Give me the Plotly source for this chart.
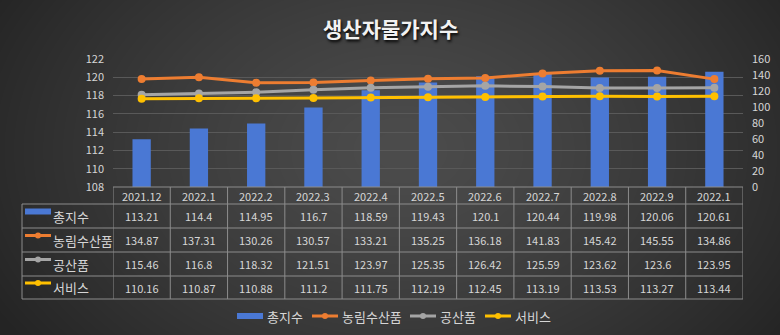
import base64
import struct
import zlib

import numpy as np
import plotly.graph_objects as go

# ---- data -------------------------------------------------------------
periods = ["2021.12", "2022.1", "2022.2", "2022.3", "2022.4", "2022.5",
           "2022.6", "2022.7", "2022.8", "2022.9", "2022.10"]
period_labels = ["2021.12", "2022.1", "2022.2", "2022.3", "2022.4", "2022.5",
                 "2022.6", "2022.7", "2022.8", "2022.9", "2022.1"]

total_index = [113.21, 114.4, 114.95, 116.7, 118.59, 119.43,
               120.1, 120.44, 119.98, 120.06, 120.61]
agri_fishery = [134.87, 137.31, 130.26, 130.57, 133.21, 135.25,
                136.18, 141.83, 145.42, 145.55, 134.86]
industrial = [115.46, 116.8, 118.32, 121.51, 123.97, 125.35,
              126.42, 125.59, 123.62, 123.6, 123.95]
services = [110.16, 110.87, 110.88, 111.2, 111.75, 112.19,
            112.45, 113.19, 113.53, 113.27, 113.44]

series_names = ["총지수", "농림수산품", "공산품", "서비스"]
series_values = [total_index, agri_fishery, industrial, services]
series_colors = ["#4a78d4", "#ed7d31", "#a5a5a5", "#ffc000"]

FONT = "Noto Sans CJK KR"
TEXT = "#d6d6d6"
GRID = "#595959"
RULE = "#8c8c8c"

W, H = 780, 335
L, R, T, B = 113, 37, 59, 148
PW, PH = W - L - R, H - T - B


def px_x(px):
    return (px - L) / PW


def px_y(py):
    return (H - B - py) / PH


# ---- dark radial background as an inline PNG ---------------------------
yy, xx = np.mgrid[0:H, 0:W].astype(float)
d = np.sqrt(((xx - 400) / 470) ** 2 + ((yy - 150) / 330) ** 2)
d = np.clip(d, 0, 1)
lum = 76 - (76 - 36) * d ** 1.3
img = np.repeat(lum[:, :, None], 3, axis=2).astype(np.uint8)
raw = b"".join(b"\x00" + row.tobytes() for row in img)


def chunk(tag, data):
    return (struct.pack(">I", len(data)) + tag + data
            + struct.pack(">I", zlib.crc32(tag + data) & 0xFFFFFFFF))


png = (b"\x89PNG\r\n\x1a\n"
       + chunk(b"IHDR", struct.pack(">IIBBBBB", W, H, 8, 2, 0, 0, 0))
       + chunk(b"IDAT", zlib.compress(raw, 9))
       + chunk(b"IEND", b""))
bg_uri = "data:image/png;base64," + base64.b64encode(png).decode()

# ---- traces -------------------------------------------------------------
fig = go.Figure()
fig.add_trace(go.Bar(
    x=periods, y=total_index, name=series_names[0],
    marker=dict(color=series_colors[0], line=dict(width=0)),
    width=0.32,
))
for name, vals, col in zip(series_names[1:], series_values[1:], series_colors[1:]):
    fig.add_trace(go.Scatter(
        x=periods, y=vals, name=name, yaxis="y2", mode="lines+markers",
        line=dict(color=col, width=3),
        marker=dict(color=col, size=8),
    ))

shapes = []
annotations = []


def add_key(i, x0, yc):
    """Legend key for series i: bar swatch or line-with-dot, 26px wide."""
    col = series_colors[i]
    if i == 0:
        shapes.append(dict(type="rect", xref="paper", yref="paper",
                           x0=px_x(x0), x1=px_x(x0 + 26),
                           y0=px_y(yc + 3), y1=px_y(yc - 3),
                           fillcolor=col, line=dict(width=0)))
    else:
        shapes.append(dict(type="line", xref="paper", yref="paper",
                           x0=px_x(x0), x1=px_x(x0 + 26), y0=px_y(yc), y1=px_y(yc),
                           line=dict(color=col, width=3)))
        shapes.append(dict(type="circle", xref="paper", yref="paper",
                           x0=px_x(x0 + 10), x1=px_x(x0 + 16),
                           y0=px_y(yc + 3), y1=px_y(yc - 3),
                           fillcolor=col, line=dict(width=0)))


# ---- data table under the plot -----------------------------------------
row_tops = [187, 204, 228, 252, 276, 299]
line_style = dict(color=RULE, width=1)

shapes.append(dict(type="line", xref="x", yref="paper", x0=-0.5, x1=len(periods) - 0.5,
                   y0=px_y(row_tops[0]), y1=px_y(row_tops[0]), line=line_style))
for py in row_tops[1:]:
    shapes.append(dict(type="line", xref="paper", yref="paper", x0=px_x(22), x1=1,
                       y0=px_y(py), y1=px_y(py), line=line_style))
for k in range(len(periods) + 1):
    shapes.append(dict(type="line", xref="x", yref="paper", x0=k - 0.5, x1=k - 0.5,
                       y0=px_y(row_tops[0]), y1=px_y(row_tops[-1]), line=line_style))
shapes.append(dict(type="line", xref="paper", yref="paper", x0=px_x(22), x1=px_x(22),
                   y0=px_y(row_tops[1]), y1=px_y(row_tops[-1]), line=line_style))

cell_font = dict(family=FONT, size=11, color=TEXT)

hy = px_y((row_tops[0] + row_tops[1]) / 2)
for k, lab in enumerate(period_labels):
    annotations.append(dict(x=k, xref="x", y=hy, yref="paper", text=lab,
                            xanchor="center", yanchor="middle",
                            showarrow=False, font=cell_font))

for i, (name, vals) in enumerate(zip(series_names, series_values)):
    mid = (row_tops[i + 1] + row_tops[i + 2]) / 2
    add_key(i, 25, mid - 4.5)
    annotations.append(dict(x=px_x(51), xref="paper", y=px_y(mid), yref="paper",
                            text=name, xanchor="left", yanchor="middle", showarrow=False,
                            font=dict(family=FONT, size=13, color=TEXT)))
    for k, v in enumerate(vals):
        annotations.append(dict(x=k, xref="x", y=px_y(mid), yref="paper",
                                text=f"{v:g}", xanchor="center", yanchor="middle",
                                showarrow=False, font=cell_font))

# ---- legend along the bottom -------------------------------------------
legend_x = [237, 312, 410, 485]
for i, (name, lx) in enumerate(zip(series_names, legend_x)):
    add_key(i, lx, 316)
    annotations.append(dict(x=px_x(lx + 28), xref="paper", y=px_y(316), yref="paper",
                            text=name, xanchor="left", yanchor="middle", showarrow=False,
                            font=dict(family=FONT, size=13, color=TEXT)))

# ---- title ----------------------------------------------------------------
annotations.append(dict(x=px_x(W / 2), xref="paper", y=px_y(27.5), yref="paper",
                        xanchor="center", yanchor="middle", showarrow=False,
                        text="<b>생산자물가지수</b>",
                        font=dict(family=FONT, size=21, color="#f2f2f2",
                                  shadow="1px 2px 3px #000000")))

fig.update_layout(
    width=W, height=H,
    margin=dict(l=L, r=R, t=T, b=B, autoexpand=False),
    paper_bgcolor="#3a3a3a",
    plot_bgcolor="rgba(0,0,0,0)",
    font=dict(family=FONT, color=TEXT),
    showlegend=False,
    xaxis=dict(type="category", range=[-0.5, len(periods) - 0.5],
               showticklabels=False, showgrid=False, zeroline=False, showline=False,
               ticks=""),
    yaxis=dict(range=[108, 122], dtick=2, showgrid=True, gridcolor=GRID, gridwidth=1,
               zeroline=False, showline=False, ticks="",
               tickfont=dict(family=FONT, size=11, color=TEXT), ticklabelstandoff=8),
    yaxis2=dict(range=[0, 160], dtick=20, overlaying="y", side="right",
                showgrid=False, zeroline=False, showline=False, ticks="",
                tickfont=dict(family=FONT, size=11, color=TEXT), ticklabelstandoff=8),
    shapes=shapes,
    annotations=annotations,
    images=[dict(source=bg_uri, xref="paper", yref="paper",
                 x=px_x(0), y=px_y(0), sizex=W / PW, sizey=H / PH,
                 xanchor="left", yanchor="top", sizing="stretch", layer="below")],
)

fig.write_html("out.html")
